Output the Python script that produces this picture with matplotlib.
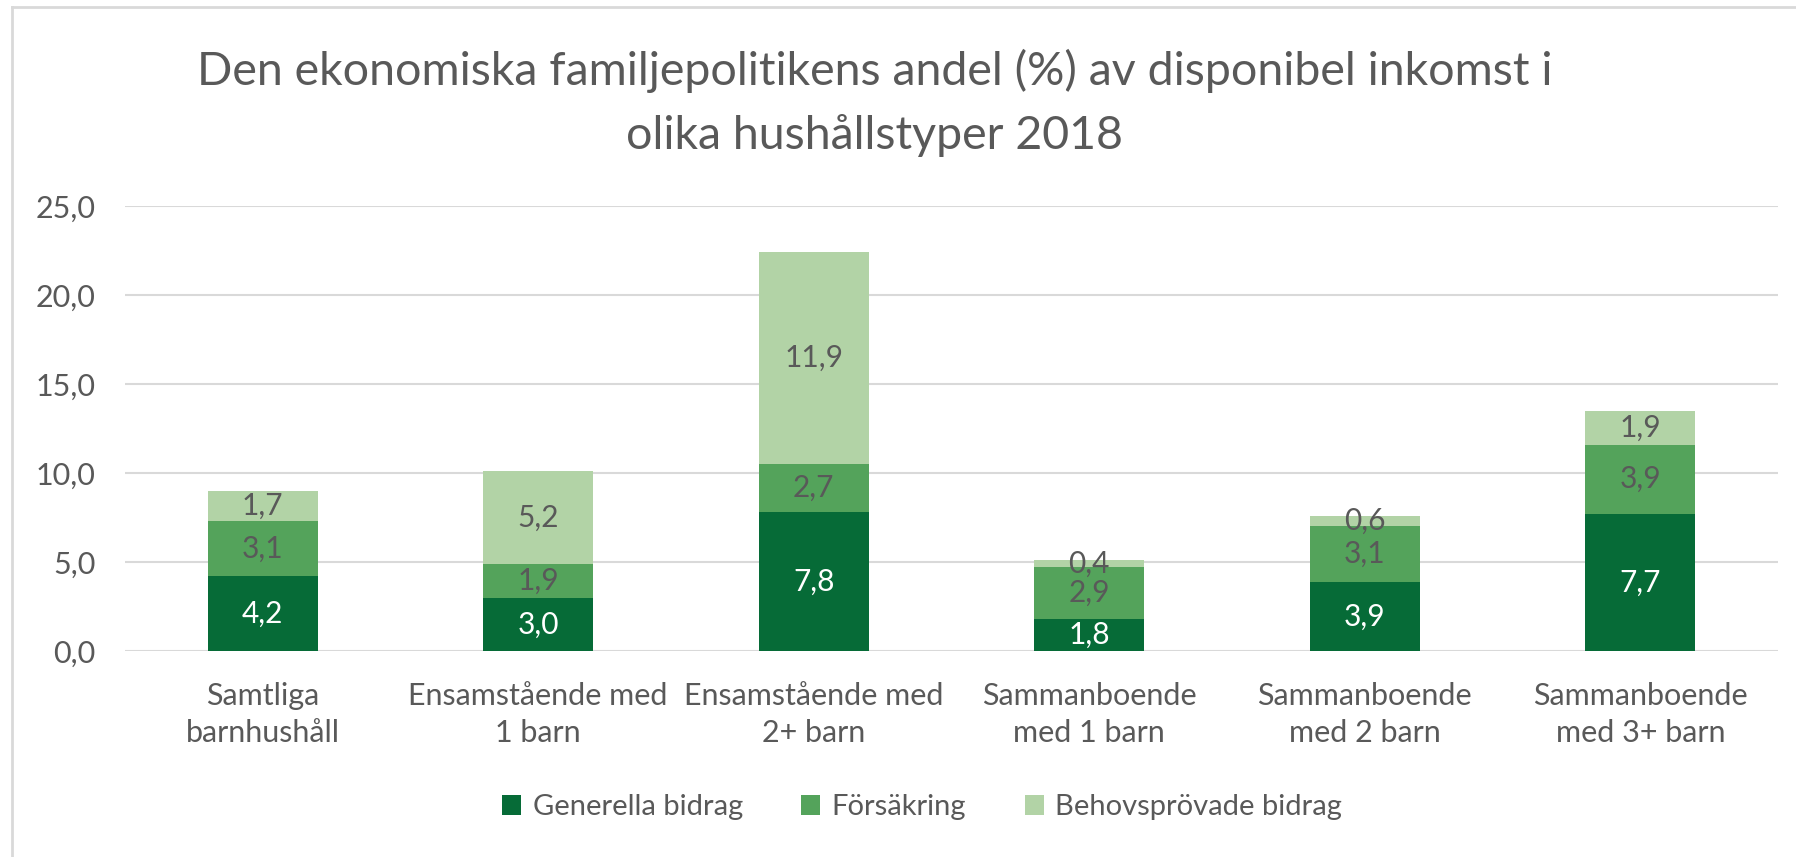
import numpy as np
import matplotlib.pyplot as plt
from matplotlib.lines import Line2D

plt.rcParams['font.family'] = ['Lato', 'DejaVu Sans']

# data
categories = ['Samtliga\nbarnhushåll', 'Ensamstående med\n1 barn', 'Ensamstående med\n2+ barn',
              'Sammanboende\nmed 1 barn', 'Sammanboende\nmed 2 barn', 'Sammanboende\nmed 3+ barn']
generella = [4.2, 3.0, 7.8, 1.8, 3.9, 7.7]
forsakring = [3.1, 1.9, 2.7, 2.9, 3.1, 3.9]
behovsprovade = [1.7, 5.2, 11.9, 0.4, 0.6, 1.9]
series_names = ['Generella bidrag', 'Försäkring', 'Behovsprövade bidrag']
yticks = [0, 5, 10, 15, 20, 25]

colors = ['#066B37', '#54A35B', '#B2D3A6']
label_colors = ['white', '#595959', '#595959']
grey = '#595959'

W, H = 1796, 857
fig = plt.figure(figsize=(W / 100, H / 100), dpi=100)
ax = fig.add_axes([125 / W, 206 / H, (1778 - 125) / W, (651 - 206) / H])

x = np.arange(len(categories))
bottom = np.zeros(len(categories))
for vals, col, lc, name in zip([generella, forsakring, behovsprovade], colors, label_colors, series_names):
    vals = np.array(vals)
    bars = ax.bar(x, vals, 0.4, bottom=bottom, color=col, label=name, zorder=3)
    ax.bar_label(bars, labels=[f'{v:.1f}'.replace('.', ',') for v in vals],
                 label_type='center', color=lc, fontsize=21.5, zorder=4)
    bottom += vals

ax.set_xlim(-0.5, len(categories) - 0.5)
ax.set_ylim(0, 25)
ax.set_yticks(yticks)
ax.set_yticklabels([f'{t:.1f}'.replace('.', ',') for t in yticks], fontsize=22, color=grey)
ax.set_xticks(x)
ax.set_xticklabels(categories, fontsize=22, color=grey, linespacing=1.42)
ax.tick_params(axis='both', length=0)
ax.tick_params(axis='y', pad=21)
ax.tick_params(axis='x', pad=22)
ax.grid(axis='y', color='#D9D9D9', linewidth=1.5, zorder=0)
for s in ax.spines.values():
    s.set_visible(False)

fig.text(875 / W, 1 - 103 / H,
         'Den ekonomiska familjepolitikens andel (%) av disponibel inkomst i\nolika hushållstyper 2018',
         ha='center', va='center', fontsize=33.5, color=grey, linespacing=1.58)

fig.legend(loc='center', bbox_to_anchor=(922 / W, 1 - 807 / H), ncol=3, frameon=False,
           fontsize=21, labelcolor=grey, handlelength=0.65, handleheight=0.7,
           handletextpad=0.4, columnspacing=2.0)

# chart area border (left and top edges visible)
fig.add_artist(Line2D([12 / W, 12 / W], [0, 1 - 7 / H], color='#D9D9D9', lw=2, transform=fig.transFigure))
fig.add_artist(Line2D([12 / W, 1], [1 - 7 / H, 1 - 7 / H], color='#D9D9D9', lw=2, transform=fig.transFigure))

fig.savefig('out.png', dpi=100)
